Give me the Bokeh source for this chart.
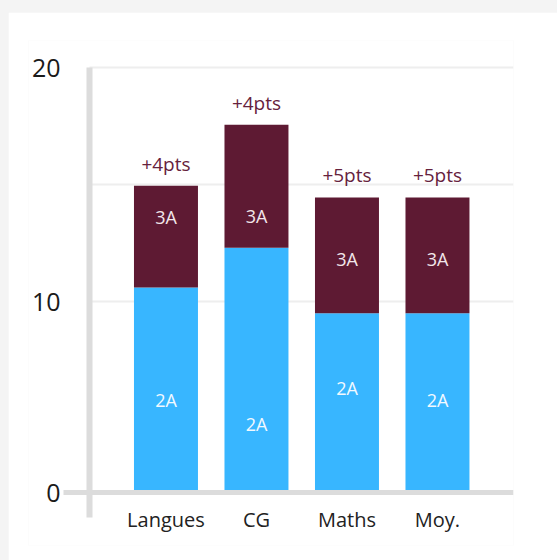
from bokeh.plotting import figure
from bokeh.models import Range1d, FixedTicker, ColumnDataSource, GlobalInlineStyleSheet
from bokeh.core.properties import value
from bokeh.embed import file_html
from bokeh.resources import INLINE

# ---- data ----
categories = ["Langues", "CG", "Maths", "Moy."]
score_2a = [10.6, 12.3, 9.5, 9.5]
score_3a = [14.95, 17.55, 14.45, 14.45]
gain_labels = ["+4pts", "+4pts", "+5pts", "+5pts"]
label_2a_y = [5.8, 4.75, 6.3, 5.8]
label_3a_y = [13.6, 13.65, 11.8, 11.8]
y_tick_values = [10, 20]
grid_values = [10, 15, 20]
AXIS_FLOOR = 1.82          # visual baseline of the chart, labelled "0"

BLUE = "#38b6ff"
MAROON = "#5e1a33"
AXIS_GREY = "#dcdcdc"
FONT = "Open Sans"

# view geometry (in data units)
X_START, X_END = -1.519, 3.840
Y_START, Y_END = -0.427, 21.154
YAXIS_X = -0.845           # where the vertical axis line sits
XAXIS_LEFT = -1.133        # left end of the horizontal axis line
YAXIS_BOTTOM = 0.77        # lower end of the vertical axis line
YAXIS_TOP = 20.02          # upper end of the vertical axis line

xs = list(range(len(categories)))
src = ColumnDataSource(dict(
    x=xs, cat=categories, s2=score_2a, s3=score_3a, gain=gain_labels,
    l2=label_2a_y, l3=label_3a_y,
    t2=["2A"] * len(xs), t3=["3A"] * len(xs),
))

p = figure(width=549, height=548,
           x_range=Range1d(X_START, X_END), y_range=Range1d(Y_START, Y_END),
           output_backend="svg", toolbar_location=None,
           min_border_left=20, min_border_right=44,
           min_border_top=28, min_border_bottom=15)
p.outline_line_color = None
p.background_fill_color = "white"
p.border_fill_color = "white"
p.stylesheets = [GlobalInlineStyleSheet(
    css="html,body{margin:0;padding:0;background:#f4f4f4;overflow:hidden;}")]
p.styles = {"margin-left": "8px", "margin-top": "12px"}

# grid
p.xgrid.visible = False
p.ygrid.ticker = FixedTicker(ticks=grid_values)
p.ygrid.grid_line_color = "#eeeeee"
p.ygrid.grid_line_width = 2
g = p.ygrid[0]
if "cross_bounds" in g.properties():
    g.cross_bounds = (YAXIS_X, X_END)

# bars
W = 0.707
p.vbar(x="x", bottom=AXIS_FLOOR, top="s2", width=W, source=src,
       fill_color=BLUE, line_color=None)
p.vbar(x="x", bottom="s2", top="s3", width=W, source=src,
       fill_color=MAROON, line_color=None)

# labels
p.text(x="x", y="s3", text="gain", source=src, y_offset=-22,
       text_align="center", text_baseline="middle",
       text_font=value(FONT), text_font_size="19px", text_color="#66223d")
p.text(x="x", y="l3", text="t3", source=src,
       text_align="center", text_baseline="middle",
       text_font=value(FONT), text_font_size="18px", text_color="#f2e6ea")
p.text(x="x", y="l2", text="t2", source=src,
       text_align="center", text_baseline="middle",
       text_font=value(FONT), text_font_size="18px", text_color="#f2f9ff")

# x axis
xa = p.xaxis[0]
xa.fixed_location = AXIS_FLOOR
xa.bounds = (XAXIS_LEFT, X_END)
xa.ticker = FixedTicker(ticks=xs)
xa.major_label_overrides = {i: c for i, c in zip(xs, categories)}
xa.axis_line_color = AXIS_GREY
xa.axis_line_width = 5
xa.major_tick_line_color = None
xa.minor_tick_line_color = None
xa.major_label_standoff = 7
xa.major_label_text_font = FONT
xa.major_label_text_font_size = "20px"
xa.major_label_text_color = "#222222"

# y axis
ya = p.yaxis[0]
ya.fixed_location = YAXIS_X
ya.bounds = (YAXIS_BOTTOM, YAXIS_TOP)
ya.ticker = FixedTicker(ticks=[AXIS_FLOOR] + y_tick_values)
ya.major_label_overrides = {AXIS_FLOOR: "0"}
ya.axis_line_color = AXIS_GREY
ya.axis_line_width = 6
ya.major_tick_line_color = None
ya.minor_tick_line_color = None
ya.major_label_standoff = 23
ya.major_label_text_font = FONT
ya.major_label_text_font_size = "25px"
ya.major_label_text_color = "#1a1a1a"

open("out.html", "w").write(file_html(p, INLINE))
